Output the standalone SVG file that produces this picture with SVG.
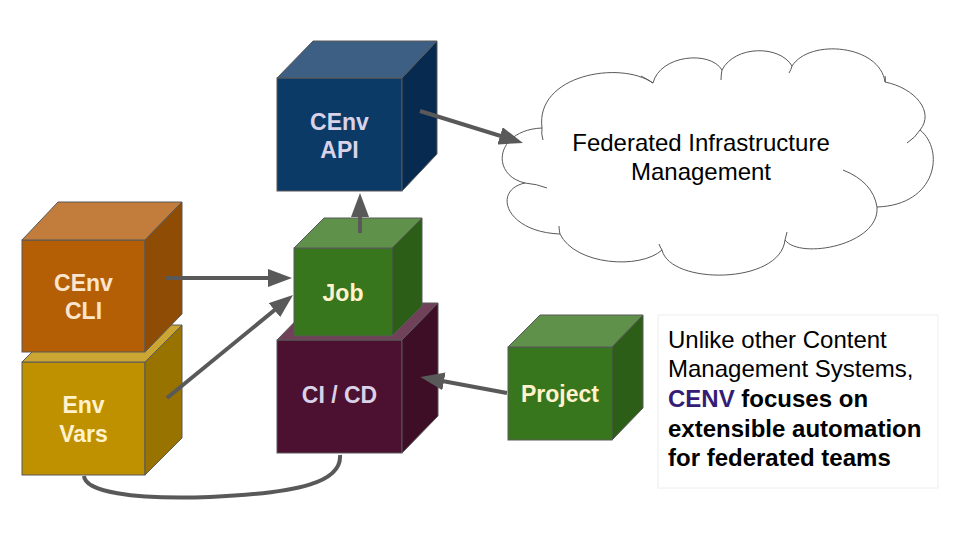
<svg xmlns="http://www.w3.org/2000/svg" width="960" height="540" viewBox="0 0 960 540">
<style>
.edge{stroke:#595959;stroke-width:4;fill:none}
.cube polygon,.cube rect{stroke:#595959;stroke-width:1}
.lbl{font-family:"Liberation Sans",Arial,sans-serif;font-weight:bold;font-size:23px;text-anchor:middle}
.txt{font-family:"Liberation Sans",Arial,sans-serif;font-size:24px;fill:#000}
</style>
<defs>
<marker id="ah" markerUnits="userSpaceOnUse" markerWidth="24" markerHeight="18" viewBox="0 0 24 18" refX="14" refY="9" orient="auto">
<path d="M0,0 L24,9 L0,18 z" fill="#595959"/>
</marker>
</defs>
<rect width="960" height="540" fill="#fff"/>

<g id="cloud">
<path d="M525,183 C490,175 495,130 542,128 C535,75 620,60 653,83 C660,55 710,50 722,70 C735,45 780,45 792,66 C810,38 880,45 885,82 C915,88 935,112 920,130 C945,150 937,205 877,207 C880,245 800,260 785,240 C780,285 670,285 662,250 C640,270 575,265 560,234 C505,232 492,190 525,183 Z" fill="#fff" stroke="#595959" stroke-width="1"/>
<path d="M525,183 Q537,184 547,188 M542,128 Q541,134 543,140 M653,83 Q647,79 641,76 M722,70 Q721,75 721,80 M792,66 Q791,70 789,73 M885,82 Q886,80 885,76 M920,130 Q915,138 907,143 M843,170 Q873,182 877,207 M785,240 Q786,236 787,232 M662,250 Q660,247 659,244 M560,234 Q559,230 559,226" fill="none" stroke="#595959" stroke-width="1"/>
<text class="txt" x="701" y="151" text-anchor="middle">Federated Infrastructure</text>
<text class="txt" x="701" y="180" text-anchor="middle">Management</text>
</g>

<g id="envvars" class="cube">
<rect x="22" y="362" width="123" height="113" fill="#bf9000"/>
<polygon points="22,362 59,325 182,325 145,362" fill="#cca633"/>
<polygon points="145,362 182,325 182,438 145,475" fill="#997300"/>
<text class="lbl" x="83.5" y="413" fill="#fff2cc">Env</text>
<text class="lbl" x="83.5" y="442" fill="#fff2cc">Vars</text>
</g>

<g id="cli" class="cube">
<rect x="22" y="240" width="123" height="112" fill="#b45f06"/>
<polygon points="22,240 58,202 182,202 145,240" fill="#c27c3c"/>
<polygon points="145,240 182,202 182,314 145,352" fill="#8f4c05"/>
<text class="lbl" x="83.5" y="291" fill="#fce5cd">CEnv</text>
<text class="lbl" x="83.5" y="319" fill="#fce5cd">CLI</text>
</g>

<g id="api" class="cube">
<rect x="277" y="78" width="125" height="113" fill="#0b3a66"/>
<polygon points="277,78 313,41 437,41 402,78" fill="#3d5f84"/>
<polygon points="402,78 437,41 437,154 402,191" fill="#072b50"/>
<text class="lbl" x="339.5" y="130" fill="#d9d2e9">CEnv</text>
<text class="lbl" x="339.5" y="158" fill="#d9d2e9">API</text>
</g>

<g id="cicd" class="cube">
<rect x="277" y="340" width="125" height="113" fill="#4c1130"/>
<polygon points="277,340 313,303 438,303 402,340" fill="#704159"/>
<polygon points="402,340 438,303 438,416 402,453" fill="#3d0e26"/>
<text class="lbl" x="339.5" y="403" fill="#d9d2e9">CI / CD</text>
</g>

<g id="job" class="cube">
<rect x="294" y="248" width="98" height="88" fill="#38761d"/>
<polygon points="294,248 324,218 422,218 392,248" fill="#5f914a"/>
<polygon points="392,248 422,218 422,306 392,336" fill="#2d5e17"/>
<text class="lbl" x="343" y="301" fill="#fff2cc">Job</text>
</g>

<g id="project" class="cube">
<rect x="508" y="347" width="104" height="93" fill="#38761d"/>
<polygon points="508,347 540,315 643,315 612,347" fill="#5f914a"/>
<polygon points="612,347 643,315 643,408 612,440" fill="#2d5e17"/>
<text class="lbl" x="560" y="402" fill="#fff2cc">Project</text>
</g>

<g id="connectors">
<path class="edge" d="M420,111 L513.4,140" marker-end="url(#ah)"/>
<path class="edge" d="M360,233 L360,203" marker-end="url(#ah)"/>
<path class="edge" d="M165,278 L282,278" marker-end="url(#ah)"/>
<path class="edge" d="M167,398 L285.3,301.3" marker-end="url(#ah)"/>
<path class="edge" d="M507,393 L430.2,378.8" marker-end="url(#ah)"/>
<path class="edge" d="M340,455 C342,482 300,493 210,497 C130,500 85,491 84,476"/>
</g>

<g id="note">
<rect x="658" y="315" width="280" height="173" fill="#fff" stroke="#eeeeee" stroke-width="1"/>
<text class="txt" x="668" y="348">Unlike other Content</text>
<text class="txt" x="668" y="377">Management Systems,</text>
<text class="txt" x="668" y="407" font-weight="bold"><tspan fill="#351c75">CENV</tspan> focuses on</text>
<text class="txt" x="668" y="437" font-weight="bold">extensible automation</text>
<text class="txt" x="668" y="466" font-weight="bold">for federated teams</text>
</g>
</svg>
